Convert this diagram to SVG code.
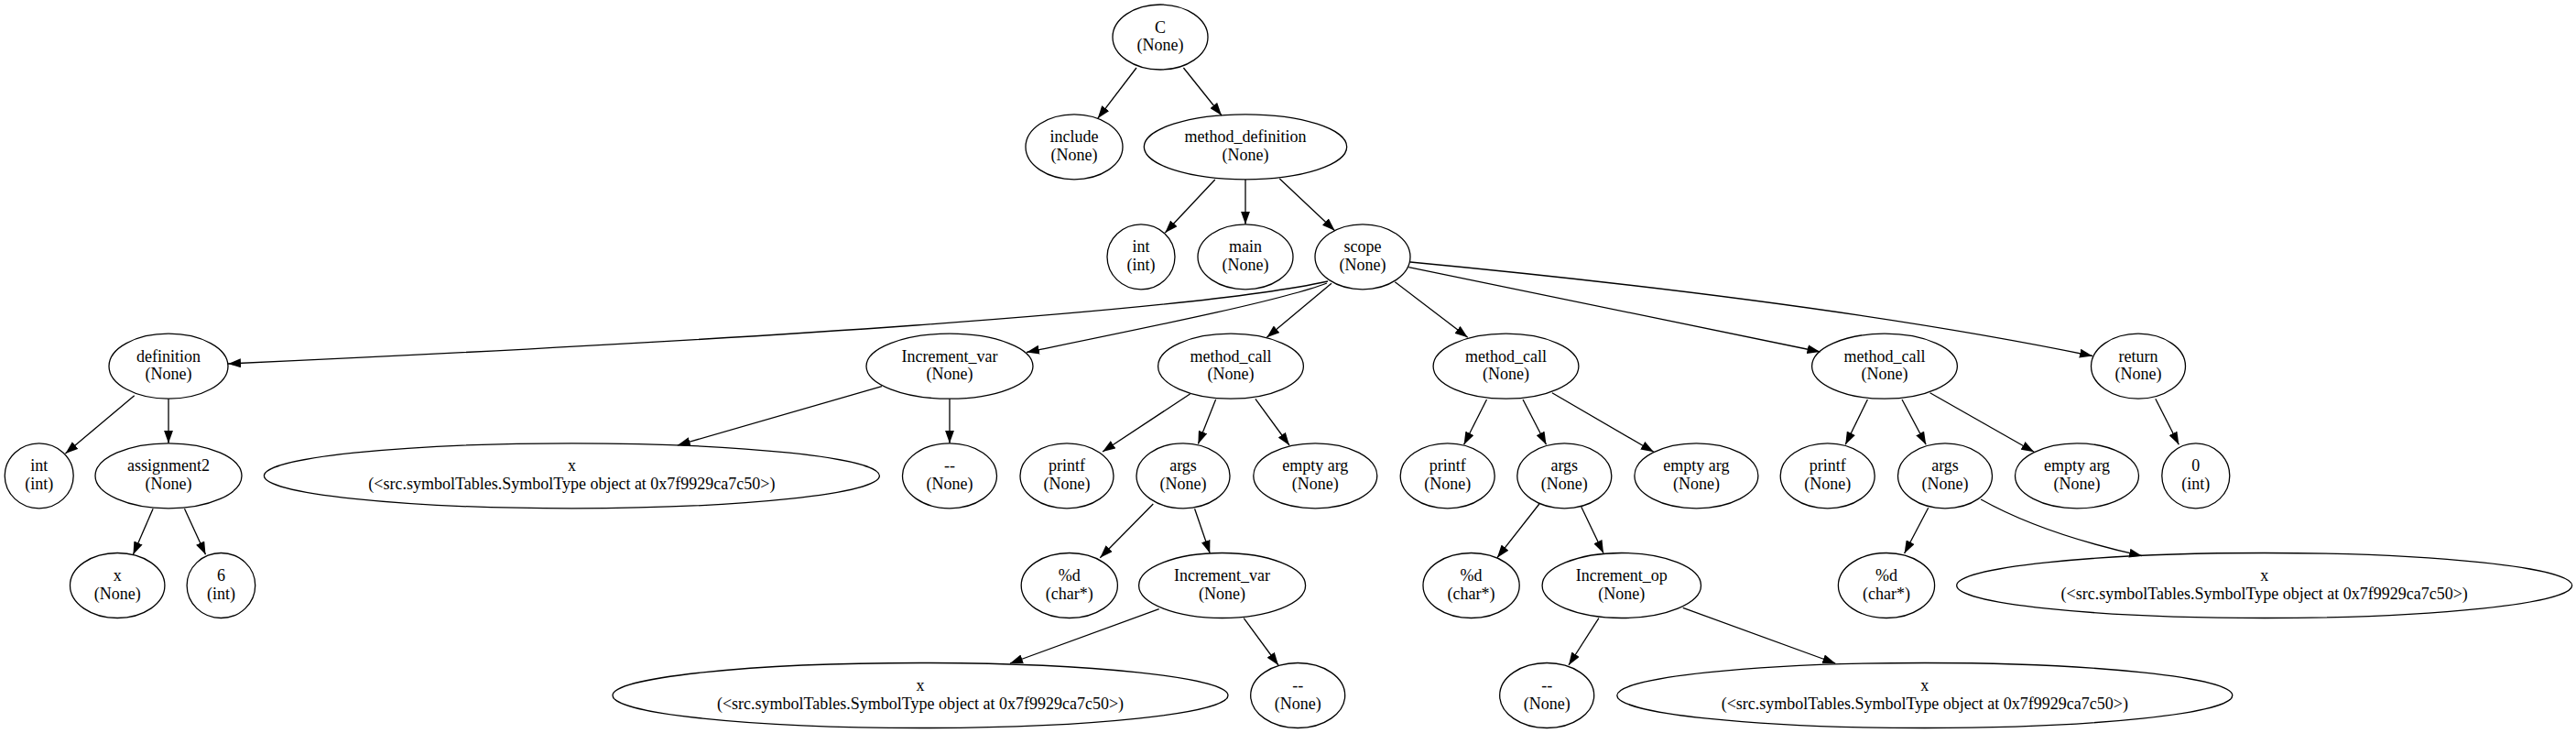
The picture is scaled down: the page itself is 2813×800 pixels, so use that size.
<svg xmlns="http://www.w3.org/2000/svg" width="2813" height="800" viewBox="0 0 2813 800">
<style>
.n ellipse{fill:none;stroke:#000;stroke-width:1.3}
.n text{font-family:"Liberation Serif","Times New Roman",serif;font-size:18px;text-anchor:middle;fill:#000}
.e path{fill:none;stroke:#000;stroke-width:1.3}
</style>
<defs>
<marker id="ah" viewBox="0 0 14 10" refX="14" refY="5" markerWidth="14" markerHeight="10" markerUnits="userSpaceOnUse" orient="auto">
<path d="M0,0 L14,5 L0,10 z" fill="#000"/>
</marker>
</defs>
<rect width="2813" height="800" fill="#fff"/>
<g class="e" marker-end="url(#ah)">
<path d="M1241,74 L1198.7,129.3"/>
<path d="M1292.4,74 L1334,126"/>
<path d="M1326.8,196 L1272.3,254"/>
<path d="M1360,196 L1360,244.8"/>
<path d="M1397.3,195 L1457.6,251.7"/>
<path d="M1450,307 C1300,340 800,372 249,397"/>
<path d="M1449,309 C1400,328 1250,358 1121,384.5"/>
<path d="M1454,309.3 L1383.3,368.3"/>
<path d="M1523.3,307.7 L1602.7,368.3"/>
<path d="M1538.3,291.7 L1987.5,384"/>
<path d="M1540,286 C1750,306 2050,340 2285,388.5"/>
<path d="M146.7,431.7 L71.4,495"/>
<path d="M184,435.2 L184,483.8"/>
<path d="M963,421.7 L739.8,486"/>
<path d="M1037,435.2 L1037,483.8"/>
<path d="M1299.5,430 L1204,493"/>
<path d="M1327.6,436 L1308.4,484.5"/>
<path d="M1370.9,435.3 L1408,486"/>
<path d="M1623.5,436 L1598.6,485.3"/>
<path d="M1663,436 L1688.5,485.3"/>
<path d="M1694.9,428.7 L1805.9,493.3"/>
<path d="M2039.4,436 L2015.2,485.3"/>
<path d="M2077,436 L2103.2,485.3"/>
<path d="M2107.6,428.7 L2221.2,493.3"/>
<path d="M2353.8,435.3 L2379.3,485.3"/>
<path d="M167.1,555.3 L145.4,605.3"/>
<path d="M201.5,555.3 L224.5,605.3"/>
<path d="M1259.3,550 L1201.3,608.7"/>
<path d="M1304.6,555.3 L1321.2,603.8"/>
<path d="M1680.9,550 L1634.9,608.7"/>
<path d="M1726.8,553.3 L1751,603.8"/>
<path d="M2105.7,554.3 L2079.6,604"/>
<path d="M2163.1,545 Q2230.6,582.8 2339.1,606.7"/>
<path d="M1265.7,664.7 L1103,724"/>
<path d="M1358.2,674.7 L1396,726"/>
<path d="M1745.9,674.7 L1713,726"/>
<path d="M1837.8,663.3 L2004.3,724"/>
</g>
<g id="n_C" class="n"><ellipse cx="1267" cy="40.5" rx="52" ry="35.5"/><text><tspan x="1267" y="35.5">C</tspan><tspan x="1267" y="55">(None)</tspan></text></g>
<g id="n_include" class="n"><ellipse cx="1173" cy="160.3" rx="53" ry="35.5"/><text><tspan x="1173" y="155.3">include</tspan><tspan x="1173" y="174.8">(None)</tspan></text></g>
<g id="n_method_definition" class="n"><ellipse cx="1360" cy="160.3" rx="110.7" ry="35.5"/><text><tspan x="1360" y="155.3">method_definition</tspan><tspan x="1360" y="174.8">(None)</tspan></text></g>
<g id="n_int_type" class="n"><ellipse cx="1246" cy="280.3" rx="37" ry="35.5"/><text><tspan x="1246" y="275.3">int</tspan><tspan x="1246" y="294.8">(int)</tspan></text></g>
<g id="n_main" class="n"><ellipse cx="1360" cy="280.3" rx="52" ry="35.5"/><text><tspan x="1360" y="275.3">main</tspan><tspan x="1360" y="294.8">(None)</tspan></text></g>
<g id="n_scope" class="n"><ellipse cx="1488" cy="280.3" rx="52" ry="35.5"/><text><tspan x="1488" y="275.3">scope</tspan><tspan x="1488" y="294.8">(None)</tspan></text></g>
<g id="n_definition" class="n"><ellipse cx="184" cy="399.7" rx="65" ry="35.5"/><text><tspan x="184" y="394.7">definition</tspan><tspan x="184" y="414.2">(None)</tspan></text></g>
<g id="n_incvar1" class="n"><ellipse cx="1037" cy="399.7" rx="91" ry="35.5"/><text><tspan x="1037" y="394.7">Increment_var</tspan><tspan x="1037" y="414.2">(None)</tspan></text></g>
<g id="n_mcall1" class="n"><ellipse cx="1344" cy="399.7" rx="79.4" ry="35.5"/><text><tspan x="1344" y="394.7">method_call</tspan><tspan x="1344" y="414.2">(None)</tspan></text></g>
<g id="n_mcall2" class="n"><ellipse cx="1644.5" cy="399.7" rx="79.4" ry="35.5"/><text><tspan x="1644.5" y="394.7">method_call</tspan><tspan x="1644.5" y="414.2">(None)</tspan></text></g>
<g id="n_mcall3" class="n"><ellipse cx="2058" cy="399.7" rx="79.4" ry="35.5"/><text><tspan x="2058" y="394.7">method_call</tspan><tspan x="2058" y="414.2">(None)</tspan></text></g>
<g id="n_return" class="n"><ellipse cx="2335" cy="399.7" rx="51.5" ry="35.5"/><text><tspan x="2335" y="394.7">return</tspan><tspan x="2335" y="414.2">(None)</tspan></text></g>
<g id="n_int2" class="n"><ellipse cx="42.7" cy="519.3" rx="37.5" ry="35.5"/><text><tspan x="42.7" y="514.3">int</tspan><tspan x="42.7" y="533.8">(int)</tspan></text></g>
<g id="n_assignment2" class="n"><ellipse cx="184" cy="519.3" rx="80" ry="35.5"/><text><tspan x="184" y="514.3">assignment2</tspan><tspan x="184" y="533.8">(None)</tspan></text></g>
<g id="n_sym1" class="n"><ellipse cx="624.4" cy="519.3" rx="336" ry="35.5"/><text><tspan x="624.4" y="514.3">x</tspan><tspan x="624.4" y="533.8">(&lt;src.symbolTables.SymbolType object at 0x7f9929ca7c50&gt;)</tspan></text></g>
<g id="n_dec1" class="n"><ellipse cx="1037" cy="519.3" rx="51.5" ry="35.5"/><text><tspan x="1037" y="514.3">--</tspan><tspan x="1037" y="533.8">(None)</tspan></text></g>
<g id="n_printf1" class="n"><ellipse cx="1165" cy="519.3" rx="51" ry="35.5"/><text><tspan x="1165" y="514.3">printf</tspan><tspan x="1165" y="533.8">(None)</tspan></text></g>
<g id="n_args1" class="n"><ellipse cx="1292" cy="519.3" rx="51" ry="35.5"/><text><tspan x="1292" y="514.3">args</tspan><tspan x="1292" y="533.8">(None)</tspan></text></g>
<g id="n_empty1" class="n"><ellipse cx="1436.3" cy="519.3" rx="67.5" ry="35.5"/><text><tspan x="1436.3" y="514.3">empty arg</tspan><tspan x="1436.3" y="533.8">(None)</tspan></text></g>
<g id="n_printf2" class="n"><ellipse cx="1580.7" cy="519.3" rx="51.5" ry="35.5"/><text><tspan x="1580.7" y="514.3">printf</tspan><tspan x="1580.7" y="533.8">(None)</tspan></text></g>
<g id="n_args2" class="n"><ellipse cx="1708.3" cy="519.3" rx="51.5" ry="35.5"/><text><tspan x="1708.3" y="514.3">args</tspan><tspan x="1708.3" y="533.8">(None)</tspan></text></g>
<g id="n_empty2" class="n"><ellipse cx="1852.4" cy="519.3" rx="67.5" ry="35.5"/><text><tspan x="1852.4" y="514.3">empty arg</tspan><tspan x="1852.4" y="533.8">(None)</tspan></text></g>
<g id="n_printf3" class="n"><ellipse cx="1995.7" cy="519.3" rx="51.5" ry="35.5"/><text><tspan x="1995.7" y="514.3">printf</tspan><tspan x="1995.7" y="533.8">(None)</tspan></text></g>
<g id="n_args3" class="n"><ellipse cx="2124" cy="519.3" rx="51.5" ry="35.5"/><text><tspan x="2124" y="514.3">args</tspan><tspan x="2124" y="533.8">(None)</tspan></text></g>
<g id="n_empty3" class="n"><ellipse cx="2268" cy="519.3" rx="67.5" ry="35.5"/><text><tspan x="2268" y="514.3">empty arg</tspan><tspan x="2268" y="533.8">(None)</tspan></text></g>
<g id="n_zero" class="n"><ellipse cx="2397.8" cy="519.3" rx="37" ry="35.5"/><text><tspan x="2397.8" y="514.3">0</tspan><tspan x="2397.8" y="533.8">(int)</tspan></text></g>
<g id="n_x1" class="n"><ellipse cx="128.2" cy="639" rx="51.7" ry="35.5"/><text><tspan x="128.2" y="634">x</tspan><tspan x="128.2" y="653.5">(None)</tspan></text></g>
<g id="n_six" class="n"><ellipse cx="241.4" cy="639" rx="37.3" ry="35.5"/><text><tspan x="241.4" y="634">6</tspan><tspan x="241.4" y="653.5">(int)</tspan></text></g>
<g id="n_fmt1" class="n"><ellipse cx="1167.8" cy="639" rx="52.6" ry="35.5"/><text><tspan x="1167.8" y="634">%d</tspan><tspan x="1167.8" y="653.5">(char*)</tspan></text></g>
<g id="n_incvar2" class="n"><ellipse cx="1334.6" cy="639" rx="91" ry="35.5"/><text><tspan x="1334.6" y="634">Increment_var</tspan><tspan x="1334.6" y="653.5">(None)</tspan></text></g>
<g id="n_fmt2" class="n"><ellipse cx="1606.6" cy="639" rx="52.6" ry="35.5"/><text><tspan x="1606.6" y="634">%d</tspan><tspan x="1606.6" y="653.5">(char*)</tspan></text></g>
<g id="n_incop" class="n"><ellipse cx="1770.8" cy="639" rx="86.7" ry="35.5"/><text><tspan x="1770.8" y="634">Increment_op</tspan><tspan x="1770.8" y="653.5">(None)</tspan></text></g>
<g id="n_fmt3" class="n"><ellipse cx="2060" cy="639" rx="52.6" ry="35.5"/><text><tspan x="2060" y="634">%d</tspan><tspan x="2060" y="653.5">(char*)</tspan></text></g>
<g id="n_sym4" class="n"><ellipse cx="2472.7" cy="639" rx="336" ry="35.5"/><text><tspan x="2472.7" y="634">x</tspan><tspan x="2472.7" y="653.5">(&lt;src.symbolTables.SymbolType object at 0x7f9929ca7c50&gt;)</tspan></text></g>
<g id="n_sym2" class="n"><ellipse cx="1005" cy="759" rx="336" ry="35.5"/><text><tspan x="1005" y="754">x</tspan><tspan x="1005" y="773.5">(&lt;src.symbolTables.SymbolType object at 0x7f9929ca7c50&gt;)</tspan></text></g>
<g id="n_dec2" class="n"><ellipse cx="1417.2" cy="759" rx="51.5" ry="35.5"/><text><tspan x="1417.2" y="754">--</tspan><tspan x="1417.2" y="773.5">(None)</tspan></text></g>
<g id="n_dec3" class="n"><ellipse cx="1689.2" cy="759" rx="51.5" ry="35.5"/><text><tspan x="1689.2" y="754">--</tspan><tspan x="1689.2" y="773.5">(None)</tspan></text></g>
<g id="n_sym3" class="n"><ellipse cx="2101.8" cy="759" rx="336" ry="35.5"/><text><tspan x="2101.8" y="754">x</tspan><tspan x="2101.8" y="773.5">(&lt;src.symbolTables.SymbolType object at 0x7f9929ca7c50&gt;)</tspan></text></g>
</svg>
